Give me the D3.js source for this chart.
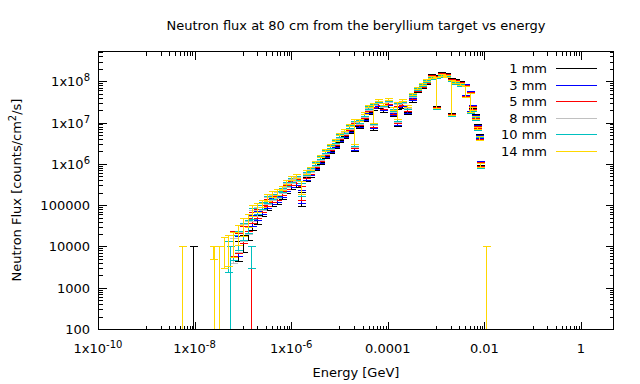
<!DOCTYPE html>
<html><head><meta charset="utf-8">
<script src="https://cdn.jsdelivr.net/npm/d3@7"></script>
<style>body{margin:0;background:#fff}text{font-family:"DejaVu Sans",sans-serif;font-size:13px;fill:#000}</style>
</head><body><svg id="c" width="640" height="384"></svg>
<script>
// ---- data ----
const energy = [4.0e-8,5.0e-8,6.3e-8,7.9e-8,1.0e-7,1.26e-7,1.58e-7,2.0e-7,2.5e-7,3.16e-7,3.98e-7,5.0e-7,6.3e-7,7.9e-7,1.0e-6,1.26e-6,1.58e-6,2.0e-6,2.5e-6,3.16e-6,3.98e-6,5.0e-6,6.3e-6,7.9e-6,1.0e-5,1.26e-5,1.58e-5,2.0e-5,2.5e-5,3.16e-5,3.98e-5,5.0e-5,6.3e-5,7.9e-5,1.0e-4,1.26e-4,1.58e-4,2.0e-4,2.5e-4,3.16e-4,3.98e-4,5.0e-4,6.3e-4,7.9e-4,1.0e-3,1.26e-3,1.58e-3,2.0e-3,2.5e-3,3.16e-3,3.98e-3,5.0e-3,5.6e-3,6.3e-3,6.9e-3,7.6e-3,8.3e-3];
const relErr = [0.7,0.7,0.6,0.5,0.45,0.35,0.3,0.25,0.2,0.18,0.15,0.15,0.12,0.12,0.1,0.1,0.35,0.1,0.08,0.08,0.08,0.07,0.07,0.07,0.06,0.06,0.06,0.6,0.06,0.06,0.06,0.5,0.05,0.05,0.05,0.06,0.45,0.05,0.05,0.05,0.05,0.05,0.05,0.05,0.7,0.05,0.05,0.75,0.05,0.05,0.3,0.5,0.1,0.08,0.08,0.1,0.12];
const flux1mm = [null,null,null,9.0e3,1.3e4,2.2e4,3.6e4,4.6e4,6.8e4,9.5e4,1.13e5,1.26e5,1.57e5,2.19e5,2.75e5,3.07e5,1.5e5,4.3e5,5.3e5,7.5e5,1.05e6,1.46e6,1.93e6,2.55e6,3.57e6,4.45e6,5.89e6,5.1e6,7.8e6,1.15e7,1.70e7,1.35e7,2.38e7,1.90e7,2.51e7,1.49e7,1.49e7,2.37e7,1.69e7,3.39e7,5.79e7,7.23e7,9.05e7,1.41e8,8.3e7,1.58e8,1.50e8,6.7e7,1.06e8,9.5e7,6.7e7,3.9e7,2.46e7,1.45e7,8.3e6,4.7e6,1.05e6];
const flux3mm = [null,null,null,1.2e4,2.5e4,3.2e4,4.4e4,5.8e4,7.6e4,1.06e5,1.26e5,1.41e5,1.75e5,2.45e5,3.07e5,3.43e5,1.75e5,4.6e5,5.8e5,8.2e5,1.14e6,1.59e6,2.10e6,2.77e6,3.88e6,4.84e6,6.4e6,5.5e6,8.5e6,1.25e7,1.85e7,1.47e7,2.58e7,2.07e7,2.73e7,1.62e7,1.62e7,2.58e7,1.84e7,3.68e7,5.95e7,7.44e7,9.31e7,1.37e8,8.0e7,1.53e8,1.46e8,6.5e7,1.03e8,9.2e7,6.5e7,3.8e7,2.39e7,1.41e7,8.0e6,4.6e6,1.02e6];
const flux5mm = [null,null,1.46e4,1.4e4,2.2e4,3.6e4,5.2e4,6.6e4,8.5e4,1.19e5,1.41e5,1.57e5,1.96e5,2.74e5,3.43e5,3.84e5,2.1e5,5.0e5,6.3e5,8.9e5,1.24e6,1.73e6,2.28e6,3.02e6,4.22e6,5.26e6,6.96e6,6.0e6,9.2e6,1.36e7,2.01e7,1.6e7,2.81e7,2.25e7,2.97e7,1.76e7,1.76e7,2.8e7,2.0e7,4.0e7,6.12e7,7.65e7,9.58e7,1.33e8,7.8e7,1.49e8,1.42e8,6.3e7,1.0e8,9.0e7,6.3e7,3.7e7,2.33e7,1.37e7,7.8e6,4.4e6,9.9e5];
const flux8mm = [null,null,1.0e4,1.5e4,2.4e4,3.0e4,6.0e4,7.2e4,9.5e4,1.33e5,1.57e5,1.76e5,2.19e5,3.06e5,3.83e5,4.29e5,2.5e5,5.5e5,6.9e5,9.7e5,1.35e6,1.88e6,2.48e6,3.28e6,4.58e6,5.72e6,7.57e6,6.5e6,1.0e7,1.48e7,2.18e7,1.74e7,3.05e7,2.44e7,3.23e7,1.91e7,1.91e7,3.05e7,2.18e7,4.35e7,6.29e7,7.87e7,9.84e7,1.26e8,7.4e7,1.41e8,1.34e8,6.0e7,9.5e7,8.5e7,6.0e7,3.5e7,2.2e7,1.3e7,7.4e6,4.2e6,9.4e5];
const flux10mm = [null,8.0e3,1.2e4,1.6e4,2.6e4,3.2e4,6.6e4,8.0e4,1.0e5,1.41e5,1.66e5,1.86e5,2.32e5,3.24e5,4.05e5,4.54e5,2.6e5,5.8e5,7.3e5,1.02e6,1.43e6,1.99e6,2.62e6,3.47e6,4.85e6,6.05e6,8.0e6,6.9e6,1.06e7,1.56e7,2.31e7,1.84e7,3.23e7,2.59e7,3.41e7,2.02e7,2.02e7,3.22e7,2.3e7,4.6e7,6.47e7,8.09e7,1.01e8,1.22e8,7.2e7,1.37e8,1.30e8,5.8e7,9.2e7,8.3e7,5.8e7,3.4e7,2.14e7,1.26e7,7.2e6,4.1e6,9.1e5];
const flux14mm = [1.0e4,1.1e4,1.4e4,2.2e4,3.3e4,4.5e4,7.6e4,9.0e4,1.12e5,1.57e5,1.86e5,2.08e5,2.59e5,3.62e5,4.53e5,5.07e5,2.9e5,6.3e5,7.9e5,1.11e6,1.55e6,2.16e6,2.85e6,3.77e6,5.27e6,6.58e6,8.7e6,7.5e6,1.15e7,1.7e7,2.51e7,2.0e7,3.51e7,2.81e7,3.71e7,2.2e7,2.2e7,3.5e7,2.5e7,5.0e7,6.84e7,8.55e7,1.07e8,1.26e8,7.4e7,1.41e8,1.34e8,6.0e7,9.5e7,8.5e7,6.0e7,3.5e7,2.2e7,1.3e7,7.4e6,4.2e6,9.4e5];
// sparse low-count points: [energy, flux, error]
const sparse1mm = [[9.3e-9,5000,5000]];
const sparse3mm = [];
const sparse5mm = [[1.47e-7,5000,5000]];
const sparse8mm = [];
const sparse10mm = [[5.4e-8,5000,5000],[1.5e-7,6500,3500]];
const sparse14mm = [[5.5e-9,5000,5000],[2.4e-8,7500,2500],[2.5e-8,5000,5000],[3.2e-8,5000,5000],[1.08e-2,5000,5000]];
const seriesNames = ["1 mm","3 mm","5 mm","8 mm","10 mm","14 mm"];
const seriesColors = ["#000000","#0000ff","#ff0000","#c0c0c0","#00c0c0","#ffd700"];
const xTickValues = [1e-10,1e-8,1e-6,1e-4,1e-2,1];
const xTickLabels = [["1x10","-10"],["1x10","-8"],["1x10","-6"],["0.0001",""],["0.01",""],["1",""]];
const yTickValues = [100,1000,1e4,1e5,1e6,1e7,1e8];
const yTickLabels = [["100",""],["1000",""],["10000",""],["100000",""],["1x10","6"],["1x10","7"],["1x10","8"]];

// ---- layout ----
const L=98, R=613, T=51, B=329;
const svg = d3.select("#c");
const x = d3.scaleLog().domain([1e-10, 4.6]).range([L, R]);
const y = d3.scaleLog().domain([100, 5.4e8]).range([B, T]);

// minor ticks
const xMinor = [];
[-9,-7,-5,-3,-1].forEach(p => { for (let k=1;k<=9;k++) { const v=k*Math.pow(10,p); if (v<4.6) xMinor.push(v); } });
const yMinor = [];
for (let p=2;p<=8;p++) for (let k=2;k<=9;k++) { const v=k*Math.pow(10,p); if (v<5.4e8) yMinor.push(v); }

function axisG(axis){ const g=svg.append("g"); g.call(axis); g.select(".domain").remove(); g.selectAll("text").remove(); g.selectAll("line").attr("stroke","#000").attr("shape-rendering","crispEdges"); return g; }
axisG(d3.axisBottom(x).tickValues(xTickValues).tickSize(-8)).attr("transform",`translate(0,${B+0.5})`);
axisG(d3.axisBottom(x).tickValues(xMinor).tickSize(-4)).attr("transform",`translate(0,${B+0.5})`);
axisG(d3.axisTop(x).tickValues(xTickValues).tickSize(-8)).attr("transform",`translate(0,${T+0.5})`);
axisG(d3.axisTop(x).tickValues(xMinor).tickSize(-4)).attr("transform",`translate(0,${T+0.5})`);
axisG(d3.axisLeft(y).tickValues(yTickValues).tickSize(-8)).attr("transform",`translate(${L+0.5},0)`);
axisG(d3.axisLeft(y).tickValues(yMinor).tickSize(-4)).attr("transform",`translate(${L+0.5},0)`);
axisG(d3.axisRight(y).tickValues(yTickValues).tickSize(-8)).attr("transform",`translate(${R+0.5},0)`);
axisG(d3.axisRight(y).tickValues(yMinor).tickSize(-4)).attr("transform",`translate(${R+0.5},0)`);

// tick labels
const xl = svg.append("g").selectAll("text").data(xTickValues).join("text")
  .attr("x", d=>x(d)).attr("y", B+24).attr("text-anchor","middle");
xl.each(function(d,i){ const t=d3.select(this); t.append("tspan").text(xTickLabels[i][0]); if (xTickLabels[i][1]) t.append("tspan").attr("dy",-5).attr("font-size","10px").text(xTickLabels[i][1]); });
const yl = svg.append("g").selectAll("text").data(yTickValues).join("text")
  .attr("x", L-8).attr("y", d=>y(d)+5).attr("text-anchor","end");
yl.each(function(d,i){ const t=d3.select(this); t.append("tspan").text(yTickLabels[i][0]); if (yTickLabels[i][1]) t.append("tspan").attr("dy",-5).attr("font-size","10px").text(yTickLabels[i][1]); });

// clip
svg.append("clipPath").attr("id","clip").append("rect").attr("x",L).attr("y",T).attr("width",R-L).attr("height",B-T+1);
const plot = svg.append("g").attr("clip-path","url(#clip)");

const fluxes = [flux1mm,flux3mm,flux5mm,flux8mm,flux10mm,flux14mm];
const sparses = [sparse1mm,sparse3mm,sparse5mm,sparse8mm,sparse10mm,sparse14mm];
seriesNames.forEach((name, si) => {
  const pts = energy.map((e,i) => fluxes[si][i]==null ? null : {e:e, v:fluxes[si][i], err:fluxes[si][i]*relErr[i]})
    .filter(d=>d).concat(sparses[si].map(p=>({e:p[0], v:p[1], err:p[2]})));
  pts.forEach(p => { p.px = Math.round(x(p.e))+0.5; p.hi = Math.round(y(p.v+p.err))+0.5; const lo=p.v-p.err; p.lo = lo>0 ? Math.round(y(lo))+0.5 : B+20; });
  const g = plot.append("g").attr("stroke", seriesColors[si]).attr("stroke-width",1).attr("shape-rendering","crispEdges");
  g.selectAll(".v").data(pts).join("line").attr("x1",d=>d.px).attr("x2",d=>d.px).attr("y1",d=>d.hi).attr("y2",d=>d.lo);
  g.selectAll(".t").data(pts).join("line").attr("x1",d=>d.px-4).attr("x2",d=>d.px+4).attr("y1",d=>d.hi).attr("y2",d=>d.hi);
  g.selectAll(".b").data(pts.filter(d=>d.lo<B+10)).join("line").attr("x1",d=>d.px-4).attr("x2",d=>d.px+4).attr("y1",d=>d.lo).attr("y2",d=>d.lo);
});

// frame
svg.append("rect").attr("x",L+0.5).attr("y",T+0.5).attr("width",R-L).attr("height",B-T).attr("fill","none").attr("stroke","#000").attr("shape-rendering","crispEdges");

// legend
const legendRows = seriesNames.map((n,i)=>({name:n, color:seriesColors[i], yy:Math.round(68+i*16.6)+0.5}));
const lgg = svg.append("g");
lgg.selectAll("text").data(legendRows).join("text").attr("x",547).attr("y",d=>d.yy+4.5).attr("text-anchor","end").text(d=>d.name);
lgg.selectAll("line").data(legendRows).join("line").attr("x1",556).attr("x2",597).attr("y1",d=>d.yy).attr("y2",d=>d.yy).attr("stroke",d=>d.color).attr("stroke-width",1).attr("shape-rendering","crispEdges");

// titles
svg.append("text").attr("x",356).attr("y",30).attr("text-anchor","middle").text("Neutron flux at 80 cm from the beryllium target vs energy");
svg.append("text").attr("x",356).attr("y",377).attr("text-anchor","middle").text("Energy [GeV]");
const ylab = svg.append("text").attr("transform","translate(21,190) rotate(-90)").attr("text-anchor","middle");
ylab.append("tspan").text("Neutron Flux [counts/cm");
ylab.append("tspan").attr("dy",-5).attr("font-size","10px").text("2");
ylab.append("tspan").attr("dy",5).text("/s]");
</script></body></html>
